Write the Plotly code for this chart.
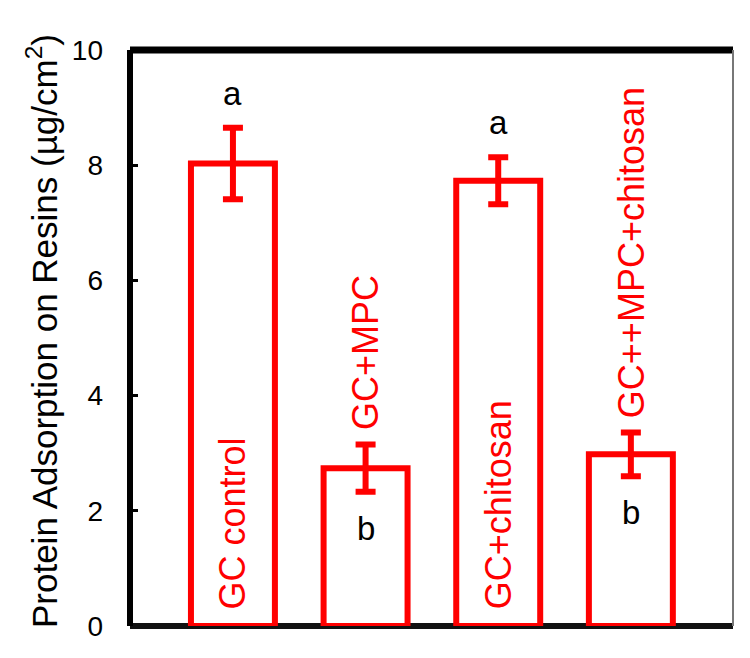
import plotly.graph_objects as go

categories = ["GC control", "GC+MPC", "GC+chitosan", "GC++MPC+chitosan"]
values = [8.03, 2.74, 7.73, 2.98]
errors = [0.62, 0.41, 0.41, 0.38]
letters = ["a", "b", "a", "b"]
label_inside = [True, False, True, False]
y_ticks = [0, 2, 4, 6, 8, 10]

RED = "#FF0000"
FONT = "Liberation Sans, Arial, sans-serif"

x_idx = list(range(len(categories)))

fig = go.Figure()
fig.add_trace(go.Bar(
    x=x_idx, y=values, width=0.633,
    marker=dict(color="white", line=dict(color=RED, width=6)),
    error_y=dict(type="data", array=errors, color=RED, thickness=6, width=10, visible=True),
    showlegend=False, hoverinfo="skip",
))

annotations = []
for i, (cat, v, e, let, inside) in enumerate(zip(categories, values, errors, letters, label_inside)):
    if inside:
        annotations.append(dict(x=i, y=0.25, xref="x", yref="y", text=cat, textangle=-90,
                                showarrow=False, xanchor="center", yanchor="bottom",
                                font=dict(family=FONT, size=36, color=RED)))
        annotations.append(dict(x=i, y=v + e + 0.6, xref="x", yref="y", text=let,
                                showarrow=False, xanchor="center", yanchor="middle",
                                font=dict(family=FONT, size=33, color="black")))
    else:
        annotations.append(dict(x=i, y=v + e + 0.22, xref="x", yref="y", text=cat, textangle=-90,
                                showarrow=False, xanchor="center", yanchor="bottom",
                                font=dict(family=FONT, size=36, color=RED)))
        annotations.append(dict(x=i, y=v - e - 0.63, xref="x", yref="y", text=let,
                                showarrow=False, xanchor="center", yanchor="middle",
                                font=dict(family=FONT, size=33, color="black")))

annotations.append(dict(x=-0.146, y=0.512, xref="paper", yref="paper",
                        text="Protein Adsorption on Resins (µg/cm<sup>2</sup>)", textangle=-90,
                        showarrow=False, xanchor="center", yanchor="middle",
                        font=dict(family=FONT, size=35, color="black")))

shapes = [
    dict(type="line", xref="paper", yref="paper", x0=0, x1=1, y0=0, y1=0,
         line=dict(color="#111111", width=6), layer="below"),
    dict(type="line", xref="paper", yref="paper", x0=0, x1=1, y0=1, y1=1,
         line=dict(color="black", width=7), layer="above"),
    dict(type="line", xref="paper", yref="paper", x0=0, x1=0, y0=0, y1=1,
         line=dict(color="black", width=6), layer="above"),
    dict(type="line", xref="paper", yref="paper", x0=1, x1=1, y0=0, y1=1,
         line=dict(color="#777777", width=2), layer="above"),
]

fig.update_layout(
    width=750, height=658,
    margin=dict(l=130, r=17, t=50, b=32),
    paper_bgcolor="white", plot_bgcolor="white",
    annotations=annotations, shapes=shapes,
    xaxis=dict(range=[-0.776, 3.77], showticklabels=False, ticks="", showgrid=False,
               zeroline=False, showline=False, fixedrange=True),
    yaxis=dict(range=[0, 10], tickvals=y_ticks, ticktext=[str(t) for t in y_ticks],
               ticks="inside", ticklen=8, tickwidth=3, tickcolor="black",
               showgrid=False, zeroline=False, showline=False,
               ticklabelstandoff=26,
               tickfont=dict(family=FONT, size=28, color="black")),
)

fig.write_html("out.html")
